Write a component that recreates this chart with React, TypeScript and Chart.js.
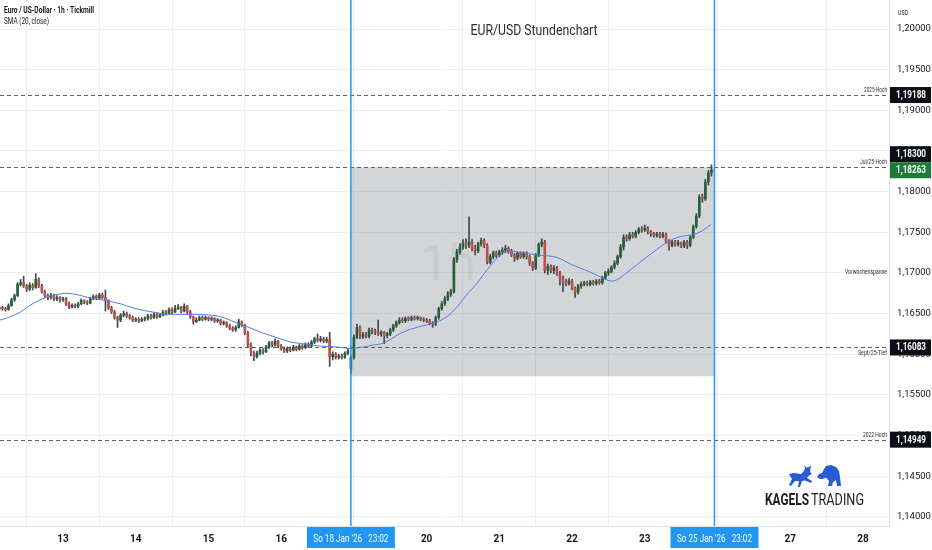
import React, { useEffect, useRef } from 'react';
import { Chart, registerables } from 'chart.js';

Chart.register(...registerables);
Chart.defaults.font.family = 'Roboto';

// ---------- data ----------
// hourly bars, index 0 = Mon 12 Jan 2026 00:00 (weekend collapsed)
const firstBar = 3;
const firstOpen = 1.1656;
const gapBar = 119; // Sunday 18 Jan 23:00 re-open
const gapOpen = 1.1582;

const closes = [
  1.1657, 1.1656, 1.1655, 1.1660, 1.1667, 1.1672, 1.1686, 1.1688, 1.1684, 1.1680,
  1.1685, 1.1682, 1.1692, 1.1684, 1.1677, 1.1672, 1.1670, 1.1672, 1.1668, 1.1670,
  1.1667, 1.1668, 1.1662, 1.1658, 1.1660, 1.1659, 1.1662, 1.1666, 1.1664, 1.1663,
  1.1668, 1.1671, 1.1669, 1.1673, 1.1670, 1.1666, 1.1657, 1.1652, 1.1645, 1.1642,
  1.1648, 1.1650, 1.1647, 1.1645, 1.1642, 1.1643, 1.1641, 1.1643, 1.1644, 1.1647,
  1.1645, 1.1649, 1.1646, 1.1648, 1.1652, 1.1650, 1.1655, 1.1652, 1.1656, 1.1658,
  1.1653, 1.1659, 1.1652, 1.1646, 1.1640, 1.1642, 1.1645, 1.1643, 1.1645, 1.1643,
  1.1644, 1.1641, 1.1642, 1.1638, 1.1639, 1.1635, 1.1632, 1.1630, 1.1633, 1.1640,
  1.1636, 1.1626, 1.1612, 1.1602, 1.1597, 1.1601, 1.1605, 1.1603, 1.1609, 1.1614,
  1.1612, 1.1616, 1.1610, 1.1607, 1.1604, 1.1607, 1.1605, 1.1609, 1.1606, 1.1610,
  1.1608, 1.1612, 1.1610, 1.1615, 1.1619, 1.1617, 1.1619, 1.1616, 1.1618, 1.1597,
  1.1600, 1.1596, 1.1598, 1.1596, 1.1601, 1.1604, 1.1596, 1.1621, 1.1633, 1.1622,
  1.1624, 1.1622, 1.1630, 1.1628, 1.1627, 1.1625, 1.1627, 1.1623, 1.1625, 1.1630,
  1.1635, 1.1639, 1.1642, 1.1641, 1.1644, 1.1643, 1.1645, 1.1644, 1.1645, 1.1643,
  1.1642, 1.1641, 1.1638, 1.1637, 1.1645, 1.1656, 1.1662, 1.1668, 1.1674, 1.1677,
  1.1716, 1.1726, 1.1732, 1.1737, 1.1734, 1.1738, 1.1730, 1.1727, 1.1736, 1.1740,
  1.1734, 1.1713, 1.1720, 1.1725, 1.1722, 1.1726, 1.1728, 1.1730, 1.1727, 1.1722,
  1.1718, 1.1724, 1.1720, 1.1724, 1.1720, 1.1712, 1.1706, 1.1722, 1.1735, 1.1738,
  1.1703, 1.1708, 1.1703, 1.1706, 1.1700, 1.1693, 1.1689, 1.1687, 1.1690, 1.1681,
  1.1676, 1.1684, 1.1686, 1.1688, 1.1686, 1.1689, 1.1687, 1.1690, 1.1688, 1.1694,
  1.1700, 1.1702, 1.1707, 1.1712, 1.1720, 1.1732, 1.1744, 1.1742, 1.1747, 1.1745,
  1.1750, 1.1754, 1.1753, 1.1755, 1.1750, 1.1748, 1.1746, 1.1748, 1.1745, 1.1747,
  1.1739, 1.1734, 1.1738, 1.1735, 1.1737, 1.1733, 1.1738, 1.1734, 1.1744, 1.1757,
  1.1770, 1.1793, 1.1791, 1.1812, 1.1823, 1.18263,
];

const highs = [
  1.1659, 1.1659, 1.1658, 1.1662, 1.1669, 1.1674, 1.1688, 1.1692, 1.1696, 1.1686,
  1.1688, 1.1687, 1.1699, 1.1694, 1.1686, 1.1679, 1.1674, 1.1675, 1.1674, 1.1672,
  1.1671, 1.1670, 1.1670, 1.1664, 1.1662, 1.1662, 1.1664, 1.1668, 1.1667, 1.1666,
  1.1670, 1.1673, 1.1673, 1.1675, 1.1675, 1.1679, 1.1667, 1.1659, 1.1654, 1.1647,
  1.1650, 1.1653, 1.1652, 1.1649, 1.1647, 1.1645, 1.1645, 1.1645, 1.1646, 1.1649,
  1.1649, 1.1651, 1.1651, 1.1650, 1.1654, 1.1654, 1.1657, 1.1657, 1.1660, 1.1661,
  1.1659, 1.1662, 1.1660, 1.1654, 1.1647, 1.1645, 1.1647, 1.1647, 1.1647, 1.1646,
  1.1646, 1.1645, 1.1644, 1.1643, 1.1641, 1.1640, 1.1637, 1.1634, 1.1635, 1.1643,
  1.1641, 1.1637, 1.1628, 1.1614, 1.1604, 1.1604, 1.1607, 1.1607, 1.1611, 1.1616,
  1.1616, 1.1619, 1.1617, 1.1612, 1.1609, 1.1609, 1.1609, 1.1611, 1.1610, 1.1612,
  1.1612, 1.1614, 1.1614, 1.1617, 1.1621, 1.1625, 1.1622, 1.1621, 1.1621, 1.1627,
  1.1603, 1.1602, 1.1600, 1.1600, 1.1603, 1.1606, 1.1598, 1.1624, 1.1637, 1.1635,
  1.1627, 1.1627, 1.1632, 1.1632, 1.1631, 1.1642, 1.1629, 1.1628, 1.1627, 1.1632,
  1.1637, 1.1641, 1.1645, 1.1645, 1.1646, 1.1646, 1.1647, 1.1647, 1.1647, 1.1646,
  1.1645, 1.1644, 1.1643, 1.1640, 1.1647, 1.1658, 1.1665, 1.1671, 1.1677, 1.1680,
  1.1719, 1.1729, 1.1736, 1.1741, 1.1742, 1.1769, 1.1741, 1.1734, 1.1738, 1.1743,
  1.1742, 1.1736, 1.1723, 1.1727, 1.1727, 1.1728, 1.1731, 1.1734, 1.1732, 1.1729,
  1.1724, 1.1726, 1.1726, 1.1726, 1.1726, 1.1722, 1.1714, 1.1724, 1.1737, 1.1742,
  1.1740, 1.1711, 1.1710, 1.1709, 1.1708, 1.1702, 1.1696, 1.1692, 1.1693, 1.1692,
  1.1683, 1.1686, 1.1689, 1.1690, 1.1690, 1.1691, 1.1691, 1.1692, 1.1692, 1.1696,
  1.1702, 1.1705, 1.1709, 1.1715, 1.1722, 1.1735, 1.1747, 1.1747, 1.1750, 1.1750,
  1.1752, 1.1756, 1.1757, 1.1759, 1.1757, 1.1752, 1.1750, 1.1750, 1.1750, 1.1750,
  1.1749, 1.1741, 1.1740, 1.1740, 1.1740, 1.1738, 1.1740, 1.1740, 1.1746, 1.1759,
  1.1773, 1.1796, 1.1797, 1.1815, 1.1826, 1.1833,
];

const lows = [
  1.1654, 1.1654, 1.1653, 1.1654, 1.1659, 1.1665, 1.1671, 1.1684, 1.1682, 1.1677,
  1.1678, 1.1679, 1.1681, 1.1682, 1.1675, 1.1670, 1.1667, 1.1668, 1.1666, 1.1666,
  1.1664, 1.1665, 1.1660, 1.1656, 1.1657, 1.1657, 1.1657, 1.1661, 1.1662, 1.1661,
  1.1662, 1.1667, 1.1667, 1.1668, 1.1668, 1.1653, 1.1655, 1.1650, 1.1643, 1.1633,
  1.1640, 1.1646, 1.1645, 1.1643, 1.1640, 1.1640, 1.1639, 1.1640, 1.1641, 1.1642,
  1.1643, 1.1644, 1.1644, 1.1645, 1.1647, 1.1648, 1.1649, 1.1650, 1.1651, 1.1655,
  1.1651, 1.1652, 1.1650, 1.1644, 1.1637, 1.1639, 1.1641, 1.1641, 1.1642, 1.1641,
  1.1641, 1.1639, 1.1639, 1.1636, 1.1636, 1.1633, 1.1630, 1.1628, 1.1628, 1.1632,
  1.1634, 1.1624, 1.1609, 1.1598, 1.1592, 1.1595, 1.1599, 1.1600, 1.1602, 1.1607,
  1.1609, 1.1610, 1.1608, 1.1605, 1.1602, 1.1602, 1.1603, 1.1604, 1.1604, 1.1605,
  1.1606, 1.1607, 1.1608, 1.1609, 1.1613, 1.1615, 1.1615, 1.1614, 1.1614, 1.1585,
  1.1593, 1.1594, 1.1594, 1.1594, 1.1595, 1.1599, 1.1576, 1.1594, 1.1619, 1.1619,
  1.1619, 1.1620, 1.1620, 1.1625, 1.1624, 1.1623, 1.1622, 1.1613, 1.1620, 1.1623,
  1.1628, 1.1633, 1.1637, 1.1639, 1.1639, 1.1641, 1.1641, 1.1642, 1.1642, 1.1641,
  1.1640, 1.1639, 1.1636, 1.1633, 1.1635, 1.1643, 1.1654, 1.1660, 1.1666, 1.1671,
  1.1675, 1.1713, 1.1723, 1.1729, 1.1730, 1.1731, 1.1727, 1.1722, 1.1725, 1.1733,
  1.1731, 1.1711, 1.1711, 1.1717, 1.1719, 1.1720, 1.1723, 1.1725, 1.1724, 1.1720,
  1.1714, 1.1716, 1.1718, 1.1718, 1.1717, 1.1709, 1.1703, 1.1704, 1.1720, 1.1732,
  1.1700, 1.1698, 1.1700, 1.1699, 1.1697, 1.1685, 1.1677, 1.1684, 1.1685, 1.1679,
  1.1670, 1.1674, 1.1681, 1.1684, 1.1684, 1.1684, 1.1685, 1.1685, 1.1686, 1.1686,
  1.1692, 1.1697, 1.1700, 1.1705, 1.1710, 1.1718, 1.1728, 1.1739, 1.1740, 1.1743,
  1.1743, 1.1748, 1.1750, 1.1751, 1.1748, 1.1745, 1.1744, 1.1744, 1.1743, 1.1743,
  1.1737, 1.1728, 1.1732, 1.1733, 1.1733, 1.1731, 1.1731, 1.1730, 1.1732, 1.1742,
  1.1755, 1.1768, 1.1787, 1.1789, 1.1808, 1.1819,
];

// SMA (20, close)
const smaBars = [
  3, 6, 10, 13, 16, 20, 23, 25, 29, 32, 35, 38, 43, 47, 55, 59, 63, 73, 77, 81,
  86, 90, 95, 99, 103, 109, 114, 119, 126, 130, 135, 139, 144, 147, 151, 154, 157, 161, 164, 167,
  171, 177, 181, 187, 192, 198, 202, 205, 207, 210, 214, 219, 223, 227, 230, 232, 235, 238,
];
const smaValues = [
  1.1642, 1.1645, 1.1652, 1.1660, 1.1666, 1.1672, 1.1674, 1.1675, 1.1673, 1.1670,
  1.1668, 1.1666, 1.1662, 1.1657, 1.1651, 1.1649, 1.1649, 1.1648, 1.1645, 1.1639,
  1.1632, 1.1626, 1.1620, 1.1615, 1.1613, 1.1610, 1.1609, 1.1607, 1.1611, 1.1614,
  1.1625, 1.1631, 1.1636, 1.1639, 1.1647, 1.1658, 1.1672, 1.1689, 1.1704, 1.1717,
  1.1727, 1.1724, 1.1722, 1.1719, 1.1710, 1.1701, 1.1694, 1.1690, 1.1692, 1.1700,
  1.1712, 1.1726, 1.1737, 1.1744, 1.1746, 1.1747, 1.1752, 1.1760,
];

const dayTicks = [24, 48, 72, 96, 144, 168, 192, 216, 264, 288];
const dayLabels = ['13', '14', '15', '16', '20', '21', '22', '23', '27', '28'];
const priceTicks = [1.14, 1.145, 1.15, 1.155, 1.16, 1.165, 1.17, 1.175, 1.18, 1.185, 1.19, 1.195, 1.2];

const levelPrices = [1.19188, 1.183, 1.16083, 1.14949];
const levelNames = ['2025-Hoch', 'Jul/25-Hoch', 'Sept/25-Tief', '2022 Hoch'];
const levelTextBelow = [false, false, true, false];

const rangeStartBar = 119;
const rangeEndBar = 239;
const rangeTop = 1.183;
const rangeBottom = 1.1573;
const rangeName = 'Vorwochenspanne';

const markerBars = [119, 239];
const markerLabels = ["So 18 Jan '26   23:02", "So 25 Jan '26   23:02"];

const titleText = 'EUR/USD Stundenchart';
const legendLine1 = 'Euro / US-Dollar · 1h · Tickmill';
const legendLine2 = 'SMA (20, close)';

// ---------- styling ----------
const xMin = 3.2;
const xMax = 296.6;
const yMax = 1.20357;
const yMin = 1.13887;
const gridColor = '#eceef2';
const axisColor = '#dcdfe5';
const textColor = '#131722';
const bullColor = '#23613a';
const bearColor = '#c0504a';
const wickColor = '#43464e';
const smaColor = '#4f7fe6';
const markerBlue = '#2196f3';
const logoBlue = '#2a5bd7';

const candles = closes.map((c, k) => {
  const bar = firstBar + k;
  const o = k === 0 ? firstOpen : bar === gapBar ? gapOpen : closes[k - 1];
  return { bar, o, c, h: Math.max(highs[k], o, c), l: Math.min(lows[k], o, c) };
});
const lastClose = closes[closes.length - 1];
const fmt = (p: number) => p.toFixed(5).replace('.', ',');

function fitText(
  ctx: CanvasRenderingContext2D, text: string, x: number, y: number,
  font: string, width: number, align: CanvasTextAlign, color: string,
  baseline: CanvasTextBaseline = 'alphabetic'
) {
  ctx.save();
  ctx.font = font;
  ctx.fillStyle = color;
  ctx.textBaseline = baseline;
  ctx.textAlign = align;
  const w = ctx.measureText(text).width || 1;
  ctx.translate(x, y);
  ctx.scale(width / w, 1);
  ctx.fillText(text, 0, 0);
  ctx.restore();
}

function drawBull(ctx: CanvasRenderingContext2D, ox: number, oy: number) {
  const pts = [
    [1, 9], [6, 8], [13, 9], [16, 6], [17, 3], [16, 0], [18.5, 2.5], [21, 2], [23, 0], [22.5, 3.5],
    [22, 7], [24, 9], [21, 10.5], [19, 13], [24, 16], [23, 18], [17, 15.5], [14, 16], [12, 22],
    [10, 22], [11, 16], [7, 16], [3, 21], [1, 20], [4, 14], [2, 11], [0, 7],
  ];
  ctx.save();
  ctx.translate(ox, oy);
  ctx.fillStyle = logoBlue;
  ctx.beginPath();
  pts.forEach(([px, py], i) => (i === 0 ? ctx.moveTo(px, py) : ctx.lineTo(px, py)));
  ctx.closePath();
  ctx.fill();
  ctx.restore();
}

function drawBear(ctx: CanvasRenderingContext2D, ox: number, oy: number) {
  const pts = [
    [0, 12], [2, 9], [5, 8], [7, 4], [9, 1], [14, 0], [19, 2], [22, 6], [23, 12], [24, 21],
    [20, 21], [19, 15], [16, 17], [15, 21], [11, 21], [12, 16], [9, 12.5], [6, 14], [3, 14],
  ];
  ctx.save();
  ctx.translate(ox, oy);
  ctx.fillStyle = logoBlue;
  ctx.beginPath();
  pts.forEach(([px, py], i) => (i === 0 ? ctx.moveTo(px, py) : ctx.lineTo(px, py)));
  ctx.closePath();
  ctx.fill();
  ctx.restore();
}

const decorPlugin = {
  id: 'decor',
  beforeDatasetsDraw(chart: any) {
    const { ctx, chartArea: a, scales } = chart;
    const x = scales.x, y = scales.y;
    ctx.save();
    ctx.beginPath();
    ctx.rect(a.left, a.top, a.right - a.left, a.bottom - a.top);
    ctx.clip();
    // previous-week range box
    const rx1 = x.getPixelForValue(rangeStartBar);
    const rx2 = x.getPixelForValue(rangeEndBar);
    const ry1 = y.getPixelForValue(rangeTop);
    const ry2 = y.getPixelForValue(rangeBottom);
    ctx.fillStyle = 'rgba(120,123,134,0.32)';
    ctx.fillRect(rx1, ry1, rx2 - rx1, ry2 - ry1);
    // watermark
    ctx.font = '50px Roboto';
    ctx.fillStyle = 'rgba(90,95,110,0.09)';
    ctx.textAlign = 'center';
    ctx.textBaseline = 'alphabetic';
    ctx.fillText('1h', 448, 280);
    // dashed levels
    ctx.strokeStyle = '#5d606b';
    ctx.lineWidth = 1;
    ctx.setLineDash([4, 3]);
    levelPrices.forEach((p) => {
      const py = Math.round(y.getPixelForValue(p)) + 0.5;
      ctx.beginPath();
      ctx.moveTo(a.left, py);
      ctx.lineTo(a.right, py);
      ctx.stroke();
    });
    ctx.restore();
  },
  afterDraw(chart: any) {
    const { ctx, chartArea: a, scales } = chart;
    const x = scales.x, y = scales.y;
    const W = chart.width;
    ctx.save();
    // vertical markers
    ctx.strokeStyle = markerBlue;
    ctx.lineWidth = 1.5;
    markerBars.forEach((b) => {
      const px = x.getPixelForValue(b);
      ctx.beginPath();
      ctx.moveTo(px, a.top);
      ctx.lineTo(px, a.bottom);
      ctx.stroke();
    });
    // level names
    levelPrices.forEach((p, i) => {
      const py = y.getPixelForValue(p);
      const by = levelTextBelow[i] ? py + 7.5 : py - 3;
      const widths = [23, 27, 29, 24];
      fitText(ctx, levelNames[i], a.right - 2, by, '7px Roboto', widths[i], 'right', '#2a2e39');
    });
    const rmid = (y.getPixelForValue(rangeTop) + y.getPixelForValue(rangeBottom)) / 2;
    fitText(ctx, rangeName, a.right - 2, rmid + 2, '7px Roboto', 42, 'right', '#2a2e39');

    // price boxes on the axis
    const boxH = 16;
    const bx = a.right + 1;
    const bw = W - bx - 1;
    const curY = y.getPixelForValue(lastClose);
    const drawBox = (cy: number, color: string, label: string) => {
      ctx.fillStyle = color;
      ctx.fillRect(bx, cy - boxH / 2, bw, boxH);
      fitText(ctx, label, bx + 6, cy + 0.5, 'bold 10px Roboto', 30, 'left', '#ffffff', 'middle');
    };
    levelPrices.forEach((p) => {
      let py = y.getPixelForValue(p);
      if (Math.abs(py - curY) < boxH) py = py <= curY ? curY - boxH : curY + boxH;
      drawBox(py, '#0c0e15', fmt(p));
    });
    drawBox(curY, '#1f7a3a', fmt(lastClose));

    // marker labels on the time axis
    markerBars.forEach((b, i) => {
      const px = x.getPixelForValue(b);
      ctx.fillStyle = markerBlue;
      ctx.fillRect(px - 44, a.bottom + 1, 88, 21);
      fitText(ctx, markerLabels[i], px, a.bottom + 16, '10.5px Roboto', 75, 'center', '#ffffff');
    });

    // title and legend
    fitText(ctx, titleText, 534, 35, '14px Roboto', 127, 'center', '#2a2e39');
    fitText(ctx, legendLine1, 4, 13, 'bold 8.5px Roboto', 90, 'left', textColor);
    fitText(ctx, legendLine2, 4, 24, '8.5px Roboto', 45, 'left', textColor);
    fitText(ctx, 'USD', a.right + 9, 15, '7.5px Roboto', 10, 'left', textColor);

    // logo
    drawBull(ctx, 788, 465);
    drawBear(ctx, 817, 465);
    fitText(ctx, 'KAGELS', 765, 505, 'bold 17px Roboto', 44, 'left', '#1c1c1c');
    fitText(ctx, 'TRADING', 811, 505, '17px Roboto', 53, 'left', '#1c1c1c');
    ctx.restore();
  },
};

export default function App() {
  const ref = useRef<HTMLCanvasElement>(null);
  useEffect(() => {
    const canvas = ref.current;
    if (!canvas) return;
    const chart = new Chart(canvas, {
      type: 'bar',
      data: {
        datasets: [
          {
            type: 'line',
            label: 'SMA',
            data: smaBars.map((b, k) => ({ x: b, y: smaValues[k] })),
            borderColor: smaColor,
            borderWidth: 1,
            pointRadius: 0,
            cubicInterpolationMode: 'monotone',
            order: 1,
          } as any,
          {
            type: 'bar',
            label: 'bodies',
            data: candles.map((d) => ({ x: d.bar, y: [d.o, d.c] })),
            backgroundColor: candles.map((d) => (d.c >= d.o ? bullColor : bearColor)),
            barThickness: 2,
            minBarLength: 1,
            grouped: false,
            borderWidth: 0,
            order: 2,
          } as any,
          {
            type: 'bar',
            label: 'wicks',
            data: candles.map((d) => ({ x: d.bar, y: [d.l, d.h] })),
            backgroundColor: wickColor,
            barThickness: 1,
            grouped: false,
            borderWidth: 0,
            order: 3,
          } as any,
        ],
      },
      options: {
        animation: false,
        responsive: false,
        devicePixelRatio: 1,
        events: [],
        layout: { padding: 0 },
        plugins: {
          legend: { display: false },
          tooltip: { enabled: false },
          title: { display: false },
        },
        scales: {
          x: {
            type: 'linear',
            position: 'bottom',
            min: xMin,
            max: xMax,
            offset: false,
            grid: { color: gridColor, drawTicks: false },
            border: { color: axisColor },
            ticks: {
              autoSkip: false,
              maxRotation: 0,
              padding: 7,
              color: textColor,
              font: { family: 'Roboto', size: 10, weight: 'bold' },
              callback: (v: any) => {
                const i = dayTicks.indexOf(Number(v));
                return i >= 0 ? dayLabels[i] : '';
              },
            },
            afterBuildTicks: (s: any) => {
              s.ticks = dayTicks.map((v) => ({ value: v }));
            },
            afterFit: (s: any) => {
              s.height = 24;
              s.paddingLeft = 0;
              s.paddingRight = 0;
            },
          },
          y: {
            type: 'linear',
            position: 'right',
            min: yMin,
            max: yMax,
            grid: { color: gridColor, drawTicks: false },
            border: { color: axisColor },
            ticks: {
              padding: 8,
              color: textColor,
              font: { family: 'Roboto', size: 9.5 },
              callback: (v: any) => fmt(Number(v)),
            },
            afterBuildTicks: (s: any) => {
              s.ticks = priceTicks.map((v) => ({ value: v }));
            },
            afterFit: (s: any) => {
              s.width = 43;
              s.paddingTop = 0;
              s.paddingBottom = 0;
            },
          },
        },
      } as any,
      plugins: [decorPlugin],
    });
    return () => chart.destroy();
  }, []);

  return (
    <div style={{ position: 'fixed', left: 0, top: 0, width: 932, height: 550, background: '#ffffff' }}>
      <canvas ref={ref} width={932} height={550} style={{ display: 'block', width: 932, height: 550 }} />
    </div>
  );
}
